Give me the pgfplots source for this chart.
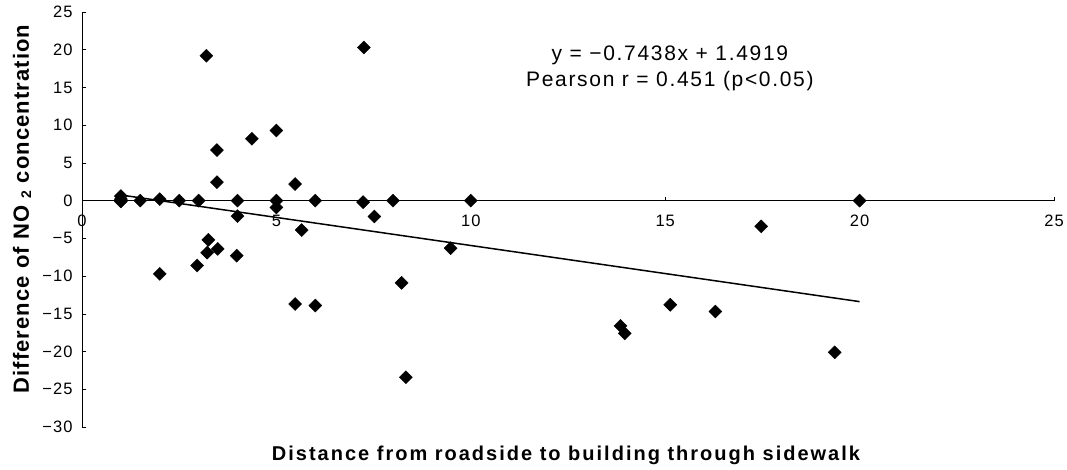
\documentclass[border=0pt]{standalone}
\usepackage{fontspec}
\setmainfont{Liberation Sans}
\usepackage{pgfplots}
\pgfplotsset{compat=1.18}
\newcommand{\tl}[1]{\mbox{\fontsize{16.5}{18}\selectfont\addfontfeature{LetterSpace=6}#1}}
\begin{document}
\begin{tikzpicture}
\useasboundingbox (-82pt,-43pt) rectangle (985pt,427pt);
\begin{axis}[
  scale only axis, width=972pt, height=415pt,
  at={(0,0)}, anchor=south west,
  xmin=0, xmax=25, ymin=-30, ymax=25,
  axis x line=middle, axis y line=left,
  axis line style={-, line width=0.8pt},
  hide obscured x ticks=false,
  xtick={0,5,10,15,20,25},
  ytick={-30,-25,-20,-15,-10,-5,0,5,10,15,20,25},
  yticklabels={\tl{−30},\tl{−25},\tl{−20},\tl{−15},\tl{−10},\tl{−5},\tl{0},\tl{5},\tl{10},\tl{15},\tl{20},\tl{25}},
  xticklabels={\tl{0},\tl{5},\tl{10},\tl{15},\tl{20},\tl{25}},
  tick align=inside, major tick length=4pt,
  tick style={black, line width=0.6pt},
  x tick label style={yshift=-11pt},
  y tick label style={xshift=-6pt},
  clip=false,
]
\addplot[only marks, mark=square*, mark size=4.6pt, mark options={rotate=45, fill=black, draw=black}] coordinates {
(1,0.6) (1,-0.1) (1,0.2)
(1.5,0) (2,0.2) (2.5,0) (3,0)
(3.2,19.2) (3.47,6.7) (3.47,2.45)
(4,0) (4,-2.05) (4.37,8.2)
(5,9.3) (5,0) (5,-0.9)
(5.48,2.2) (5.65,-3.9) (6,0)
(2,-9.7) (2.96,-8.6) (3.25,-5.2) (3.22,-6.9) (3.49,-6.4) (3.98,-7.3)
(5.48,-13.7) (6,-13.9)
(7.25,20.3) (7.23,-0.2) (8,0) (7.52,-2.1) (10,0)
(9.48,-6.3) (8.22,-10.9) (8.33,-23.4)
(13.85,-16.6) (13.96,-17.6) (15.13,-13.8) (16.29,-14.7)
(20,0) (17.47,-3.4) (19.36,-20.1)
};
\addplot[black, line width=1.5pt, no marks] coordinates {(1,0.748) (20,-13.384)};
\node[font=\fontsize{21}{26}\selectfont\addfontfeature{LetterSpace=8}, align=center] at (axis cs:15.12,17.47) {y = −0.7438x + 1.4919\\Pearson r = 0.451 (p<0.05)};
\end{axis}
\node[rotate=90, font=\bfseries\fontsize{22}{26}\selectfont\addfontfeature{LetterSpace=5}] at (-60pt,218pt) {Difference of NO {\fontsize{14}{15}\selectfont\raisebox{-0.3ex}{2}} concentration};
\node[font=\bfseries\fontsize{20}{24}\selectfont\addfontfeature{LetterSpace=10}] at (484pt,-28pt) {Distance from roadside to building through sidewalk};
\end{tikzpicture}
\end{document}
